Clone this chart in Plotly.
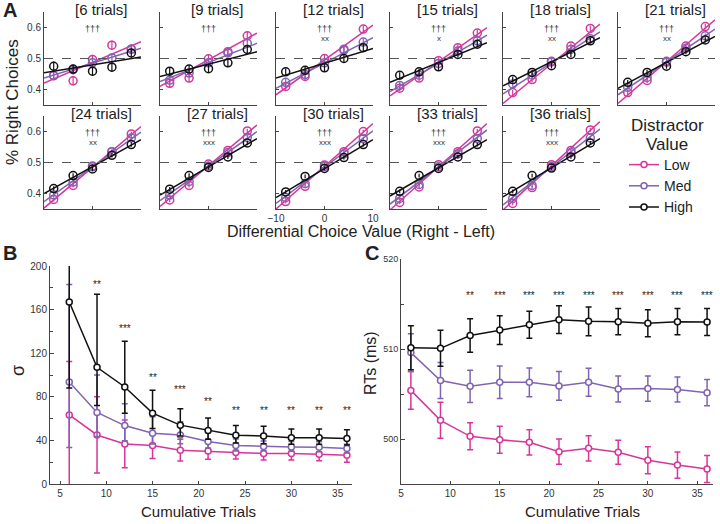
import plotly.graph_objects as go

# ---- data ----
trial_counts = [6, 9, 12, 15, 18, 21, 24, 27, 30, 33, 36]
dcv = [-8, -4, 0, 4, 8]

# panel A: proportion of right choices per distractor level
low_pts = [
    [0.445, 0.428, 0.497, 0.543, 0.530],
    [0.420, 0.437, 0.499, 0.522, 0.573],
    [0.410, 0.442, 0.500, 0.527, 0.595],
    [0.404, 0.437, 0.493, 0.535, 0.582],
    [0.390, 0.432, 0.491, 0.540, 0.597],
    [0.390, 0.429, 0.491, 0.540, 0.603],
    [0.381, 0.426, 0.489, 0.535, 0.592],
    [0.379, 0.426, 0.495, 0.539, 0.602],
    [0.374, 0.423, 0.492, 0.535, 0.600],
    [0.371, 0.421, 0.493, 0.535, 0.602],
    [0.368, 0.419, 0.493, 0.539, 0.605],
]
med_pts = [
    [0.445, 0.464, 0.486, 0.502, 0.530],
    [0.430, 0.453, 0.486, 0.518, 0.549],
    [0.423, 0.448, 0.486, 0.530, 0.553],
    [0.413, 0.446, 0.484, 0.524, 0.557],
    [0.418, 0.446, 0.489, 0.529, 0.564],
    [0.407, 0.439, 0.488, 0.533, 0.573],
    [0.395, 0.437, 0.486, 0.535, 0.579],
    [0.395, 0.439, 0.489, 0.532, 0.581],
    [0.387, 0.432, 0.487, 0.528, 0.577],
    [0.384, 0.429, 0.486, 0.528, 0.577],
    [0.384, 0.426, 0.487, 0.532, 0.579],
]
high_pts = [
    [0.475, 0.466, 0.459, 0.472, 0.518],
    [0.459, 0.466, 0.467, 0.486, 0.529],
    [0.457, 0.462, 0.470, 0.500, 0.535],
    [0.446, 0.457, 0.473, 0.513, 0.546],
    [0.432, 0.455, 0.477, 0.513, 0.557],
    [0.423, 0.455, 0.475, 0.522, 0.560],
    [0.416, 0.458, 0.479, 0.523, 0.558],
    [0.414, 0.458, 0.484, 0.518, 0.563],
    [0.405, 0.455, 0.481, 0.516, 0.558],
    [0.407, 0.458, 0.481, 0.518, 0.558],
    [0.407, 0.458, 0.482, 0.518, 0.563],
]
pt_err = [0.015, 0.013, 0.011, 0.010, 0.009, 0.008, 0.007, 0.007, 0.006, 0.006, 0.006]

# logistic fit lines, values at DCV = -10 and +10
fit_x = [-10, 10]
fit_low_left = [0.421, 0.410, 0.383, 0.379, 0.355, 0.355, 0.353, 0.358, 0.350, 0.347, 0.347]
fit_low_right = [0.554, 0.582, 0.608, 0.600, 0.611, 0.625, 0.616, 0.621, 0.626, 0.626, 0.632]
fit_med_left = [0.437, 0.426, 0.404, 0.393, 0.386, 0.383, 0.374, 0.377, 0.368, 0.366, 0.363]
fit_med_right = [0.533, 0.549, 0.567, 0.575, 0.586, 0.595, 0.598, 0.600, 0.602, 0.605, 0.608]
fit_high_left = [0.454, 0.442, 0.437, 0.423, 0.412, 0.404, 0.400, 0.395, 0.387, 0.392, 0.389]
fit_high_right = [0.505, 0.522, 0.532, 0.551, 0.567, 0.571, 0.574, 0.577, 0.574, 0.574, 0.577]

sig_dagger = ['†††'] * 11
sig_x = ['', '', 'xx', 'x', 'xx', 'xx', 'xx', 'xxx', 'xxx', 'xxx', 'xxx']

# panel B: sigma
sigma_low = [63.4, 45, 36.8, 35.3, 31, 30.3, 29, 28, 28, 27.3, 26.4]
sigma_low_up = [49, 35, 22, 12, 10, 7.5, 6, 6, 6, 6, 6.5]
sigma_low_dn = [70, 35, 22, 12, 10, 7.5, 6, 6, 6, 6, 6.5]
sigma_med = [93.5, 65.6, 53.6, 46.6, 45, 39, 35.3, 34.4, 34, 33.7, 32.5]
sigma_med_up = [89.5, 34.5, 20, 15, 12, 8, 6, 5, 5, 5, 4]
sigma_med_dn = [60, 22, 14, 10, 8, 6, 5, 4, 4, 4, 4]
sigma_high = [167, 107, 89, 65, 54, 49, 44.7, 44, 42.5, 42.5, 41.7]
sigma_high_up = [79, 67, 42, 21, 15, 11.5, 9, 9, 8, 8, 8]
sigma_high_dn = [79, 35, 24, 14, 10, 8, 7, 7, 6, 6, 6]
b_stars = ['', '**', '***', '**', '***', '**', '**', '**', '**', '**', '**']
b_star_y = [0, 183, 142.5, 98, 87, 75.7, 67.4, 67.4, 67.4, 67.4, 67.4]

# panel C: reaction times
rt_low = [505.4, 502.07, 500.3, 499.92, 499.63, 498.59, 498.96, 498.52, 497.63, 497.1, 496.67]
rt_low_err = [2.1, 2.0, 1.5, 1.5, 1.4, 1.4, 1.4, 1.33, 1.5, 1.45, 1.5]
rt_med = [509.6, 506.5, 505.85, 506.3, 506.3, 505.9, 506.3, 505.55, 505.6, 505.5, 505.15]
rt_med_err = [2.1, 2.0, 1.8, 1.8, 1.6, 1.6, 1.55, 1.45, 1.4, 1.4, 1.45]
rt_high = [510.14, 510.07, 511.5, 512.1, 512.7, 513.26, 513.07, 513.04, 512.85, 513.04, 513.0]
rt_high_err = [2.45, 2.0, 1.85, 1.6, 1.5, 1.55, 1.6, 1.45, 1.5, 1.45, 1.5]
c_stars = ['', '', '**', '***', '***', '***', '***', '***', '***', '***', '***']
c_star_y = 516

# ---- styling ----
MAG = '#d6369b'
PUR = '#8064b2'
BLK = '#111111'
AXC = '#444444'
FONT = 'Arial, Liberation Sans, sans-serif'
W, H = 720, 524


def px_x(p):
    return p / W


def px_y(p):
    return 1 - p / H


fig = go.Figure()
layout = {}
shapes = []
annotations = []

col_left = [44, 160, 276, 390, 503, 618]
row_top = [12, 116]
pw, ph = 97, 93

for i, n_trials in enumerate(trial_counts):
    row, col = divmod(i, 6)
    k = i + 1
    xs = 'x' if k == 1 else f'x{k}'
    ys = 'y' if k == 1 else f'y{k}'
    left, top = col_left[col], row_top[row]

    layout[f'xaxis{k}'] = dict(
        domain=[px_x(left), px_x(left + pw)], range=[-10, 10], anchor=ys,
        tickvals=[-10, 0, 10], showticklabels=(i == 8), ticks='inside', ticklen=3,
        tickcolor=AXC, showline=True, linecolor=AXC, linewidth=1,
        showgrid=False, zeroline=False, tickfont=dict(size=10, color='#333'))
    layout[f'yaxis{k}'] = dict(
        domain=[px_y(top + ph), px_y(top)], range=[0.35, 0.65], anchor=xs,
        tickvals=[0.4, 0.5, 0.6], showticklabels=(col == 0), ticks='inside', ticklen=3,
        tickcolor=AXC, showline=True, linecolor=AXC, linewidth=1,
        showgrid=False, zeroline=False, tickfont=dict(size=10, color='#333'))

    shapes.append(dict(type='line', xref=f'{xs} domain', yref=ys, x0=0, x1=1, y0=0.5, y1=0.5,
                       line=dict(color='#555', width=1, dash='dash')))

    for pts, lo, hi, c in [(low_pts, fit_low_left, fit_low_right, MAG),
                           (med_pts, fit_med_left, fit_med_right, PUR),
                           (high_pts, fit_high_left, fit_high_right, BLK)]:
        fig.add_trace(go.Scatter(x=fit_x, y=[lo[i], hi[i]], mode='lines', xaxis=xs, yaxis=ys,
                                 line=dict(color=c, width=1.5), showlegend=False, hoverinfo='skip'))
        fig.add_trace(go.Scatter(x=dcv, y=pts[i], mode='markers', xaxis=xs, yaxis=ys,
                                 marker=dict(symbol='circle-open', size=8, color=c, line=dict(width=1.5)),
                                 error_y=dict(type='data', array=[pt_err[i]] * 5, width=0, thickness=1.2, color=c),
                                 showlegend=False))

    annotations.append(dict(x=0, y=0.595, xref=xs, yref=ys, text=sig_dagger[i], showarrow=False,
                            font=dict(size=9, color='#333')))
    if sig_x[i]:
        annotations.append(dict(x=0, y=0.566, xref=xs, yref=ys, text=sig_x[i], showarrow=False,
                                font=dict(size=8, color='#333')))
    annotations.append(dict(x=px_x(left + pw / 2 + 9), y=px_y(top - 3), xref='paper', yref='paper',
                            xanchor='center', yanchor='middle',
                            text=f'[{n_trials} trials]', showarrow=False,
                            font=dict(size=15, color='#222')))

# panel B
layout['xaxis12'] = dict(domain=[px_x(50), px_x(352)], range=[3.92, 36.55], anchor='y12',
                         tickvals=[5, 10, 15, 20, 25, 30, 35], ticks='inside', ticklen=3,
                         tickcolor=AXC, showline=True, linecolor=AXC, showgrid=False, zeroline=False,
                         tickfont=dict(size=10, color='#333'))
layout['yaxis12'] = dict(domain=[px_y(484), px_y(266)], range=[0, 200], anchor='x12',
                         tickvals=[0, 40, 80, 120, 160, 200], ticks='inside', ticklen=4,
                         minor=dict(tickvals=[20, 60, 100, 140, 180], ticks='inside', ticklen=3, tickcolor=AXC),
                         tickcolor=AXC, showline=True, linecolor=AXC, showgrid=False, zeroline=False,
                         tickfont=dict(size=10, color='#333'))

for name, vals, up, dn, c in [('Low', sigma_low, sigma_low_up, sigma_low_dn, MAG),
                              ('Med', sigma_med, sigma_med_up, sigma_med_dn, PUR),
                              ('High', sigma_high, sigma_high_up, sigma_high_dn, BLK)]:
    fig.add_trace(go.Scatter(x=trial_counts, y=vals, mode='lines+markers', name=name,
                             xaxis='x12', yaxis='y12', line=dict(color=c, width=1.5),
                             marker=dict(symbol='circle', size=6, color='white', line=dict(color=c, width=1.5)),
                             error_y=dict(type='data', symmetric=False, array=up, arrayminus=dn,
                                          width=3, thickness=1.5, color=c),
                             showlegend=True))

for t, s, yv in zip(trial_counts, b_stars, b_star_y):
    if s:
        annotations.append(dict(x=t, y=yv, xref='x12', yref='y12', text=s, showarrow=False,
                                font=dict(size=10, color='#222')))

# panel C
layout['xaxis13'] = dict(domain=[px_x(401), px_x(713)], range=[5, 36.6], anchor='y13',
                         tickvals=[5, 10, 15, 20, 25, 30, 35], ticks='inside', ticklen=3,
                         tickcolor=AXC, showline=True, linecolor=AXC, showgrid=False, zeroline=False,
                         tickfont=dict(size=10, color='#333'))
layout['yaxis13'] = dict(domain=[px_y(484), px_y(259)], range=[495, 520], anchor='x13',
                         tickvals=[500, 510, 520], ticks='inside', ticklen=4,
                         minor=dict(tickvals=[495, 505, 515], ticks='inside', ticklen=3, tickcolor=AXC),
                         tickcolor=AXC, showline=True, linecolor=AXC, showgrid=False, zeroline=False,
                         tickfont=dict(size=9, color='#333'))

for vals, err, c in [(rt_low, rt_low_err, MAG), (rt_med, rt_med_err, PUR), (rt_high, rt_high_err, BLK)]:
    fig.add_trace(go.Scatter(x=trial_counts, y=vals, mode='lines+markers',
                             xaxis='x13', yaxis='y13', line=dict(color=c, width=1.5),
                             marker=dict(symbol='circle', size=6, color='white', line=dict(color=c, width=1.5)),
                             error_y=dict(type='data', array=err, width=3, thickness=1.5, color=c),
                             showlegend=False))

for t, s in zip(trial_counts, c_stars):
    if s:
        annotations.append(dict(x=t, y=c_star_y, xref='x13', yref='y13', text=s, showarrow=False,
                                font=dict(size=10, color='#222')))

# labels
labels = [
    ('A', 1, 10, 20, 0, 'left', True),
    ('B', 1, 253, 20, 0, 'left', True),
    ('C', 363, 253, 20, 0, 'left', True),
    ('% Right Choices', 13, 102, 17, -90, 'center', False),
    ('Differential Choice Value (Right - Left)', 361, 231, 16, 0, 'center', False),
    ('σ', 18, 371, 18, -90, 'center', False),
    ('RTs (ms)', 370, 363, 16, -90, 'center', False),
    ('Cumulative Trials', 198, 511, 15, 0, 'center', False),
    ('Cumulative Trials', 582, 511, 15, 0, 'center', False),
    ('Distractor', 667, 125, 17, 0, 'center', False),
    ('Value', 667, 144, 17, 0, 'center', False),
]
for txt, x, y, size, ang, xa, bold in labels:
    annotations.append(dict(x=px_x(x), y=px_y(y), xref='paper', yref='paper', showarrow=False,
                            text=f'<b>{txt}</b>' if bold else txt, textangle=ang,
                            xanchor=xa, yanchor='middle',
                            font=dict(size=size, color='#222')))

fig.update_layout(
    width=W, height=H, margin=dict(l=0, r=0, t=0, b=0, autoexpand=False),
    paper_bgcolor='white', plot_bgcolor='white',
    font=dict(family=FONT, color='#222'),
    shapes=shapes, annotations=annotations,
    legend=dict(x=px_x(624), y=px_y(149), xanchor='left', yanchor='top',
                font=dict(size=14), itemwidth=30, tracegroupgap=0, bgcolor='rgba(0,0,0,0)'),
    **layout)

# drop the browser's default body margin so the figure sits at the page origin
fig.write_html("out.html", config={'displayModeBar': False},
               post_script="document.body.style.margin='0';")
